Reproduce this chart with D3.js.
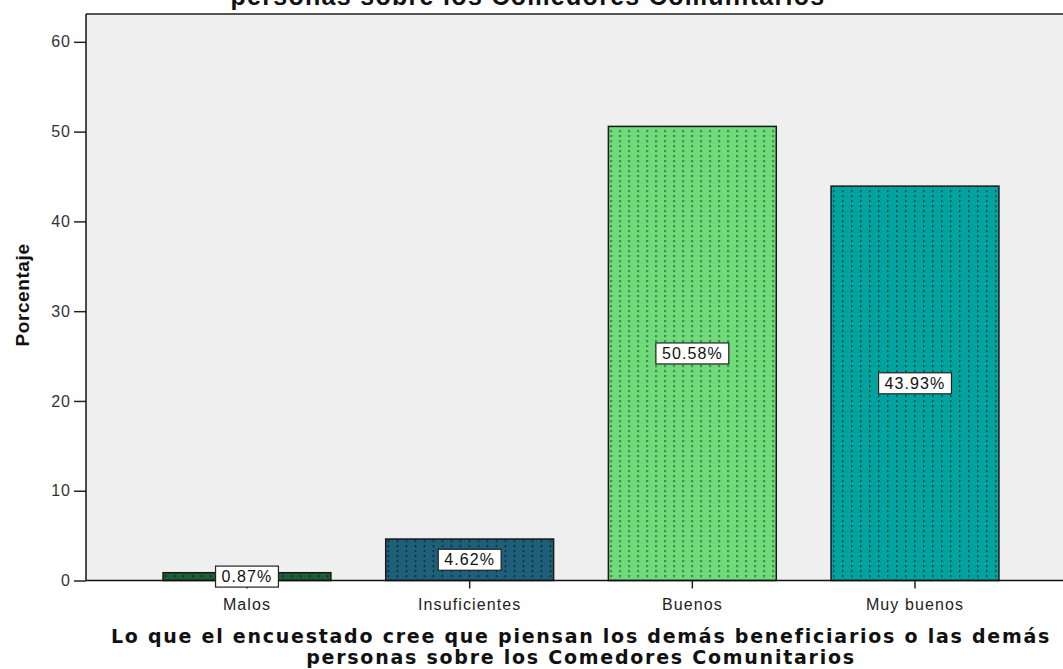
<!DOCTYPE html>
<html>
<head>
<meta charset="utf-8">
<script src="https://cdn.jsdelivr.net/npm/d3@7"></script>
<style>
  html, body { margin: 0; padding: 0; background: #ffffff; }
  svg { display: block; }
</style>
</head>
<body>
<svg id="chart" width="1063" height="669"></svg>
<script>
// ---- data ----
const categories = ["Malos", "Insuficientes", "Buenos", "Muy buenos"];
const percentages = [0.87, 4.62, 50.58, 43.93];
const valueLabels = ["0.87%", "4.62%", "50.58%", "43.93%"];
const barColors = ["#1b5e37", "#1e5f7a", "#6fdb7b", "#00a39e"];
const yTicks = [0, 10, 20, 30, 40, 50, 60];
const titleText = "personas sobre los Comedores Comunitarios";
const xTitleLines = ["Lo que el encuestado cree que piensan los demás beneficiarios o las demás",
                     "personas sobre los Comedores Comunitarios"];
const yTitle = "Porcentaje";

// ---- layout ----
const W = 1063, H = 669;
const plot = { left: 86, right: 1076, top: 14, bottom: 580.5 };
const svg = d3.select("#chart");
const SANS = "'Liberation Sans', Arial, sans-serif";

const x = d3.scaleBand()
  .domain(categories)
  .range([plot.left, plot.right])
  .paddingInner(0.246)
  .paddingOuter(0.346);

const y = d3.scaleLinear()
  .domain([0, 63.1])
  .range([plot.bottom, plot.top]);

// dotted pattern
const defs = svg.append("defs");
barColors.forEach((c, i) => {
  const p = defs.append("pattern")
    .attr("id", "pat" + i)
    .attr("patternUnits", "userSpaceOnUse")
    .attr("width", 9).attr("height", 5)
    .attr("x", x(categories[i]) + 2);
  p.append("rect").attr("width", 9).attr("height", 5).attr("fill", c);
  p.append("rect").attr("x", 0).attr("y", 0).attr("width", 1.3).attr("height", 2.2)
    .attr("fill", "#000").attr("fill-opacity", 0.6);
});

// plot background
svg.append("rect")
  .attr("x", plot.left).attr("y", plot.top)
  .attr("width", W - plot.left + 5).attr("height", plot.bottom - plot.top)
  .attr("fill", "#efefef");

// top border
svg.append("line")
  .attr("x1", plot.left).attr("x2", W + 5)
  .attr("y1", plot.top).attr("y2", plot.top)
  .attr("stroke", "#555").attr("stroke-width", 2);

// bars
svg.append("g").selectAll("rect")
  .data(categories)
  .join("rect")
  .attr("x", d => x(d))
  .attr("y", (d, i) => y(percentages[i]))
  .attr("width", x.bandwidth())
  .attr("height", (d, i) => y(0) - y(percentages[i]))
  .attr("fill", (d, i) => "url(#pat" + i + ")")
  .attr("stroke", "#1a1a1a")
  .attr("stroke-width", 1.5);

// y axis
const yAxis = d3.axisLeft(y).tickValues(yTicks).tickSize(12).tickPadding(3).tickFormat(d3.format("d"));
const gy = svg.append("g").attr("transform", `translate(${plot.left},0)`).call(yAxis);
gy.select(".domain").remove();
gy.selectAll(".tick line").attr("stroke", "#222").attr("stroke-width", 1.5);
gy.selectAll(".tick text")
  .attr("font-family", SANS)
  .attr("font-size", 16).attr("letter-spacing", "1px").attr("fill", "#333");
svg.append("line")
  .attr("x1", plot.left).attr("x2", plot.left)
  .attr("y1", plot.top).attr("y2", plot.bottom)
  .attr("stroke", "#111").attr("stroke-width", 1.5);

// x axis
const xAxis = d3.axisBottom(x).tickSize(8).tickPadding(10);
const gx = svg.append("g").attr("transform", `translate(0,${plot.bottom})`).call(xAxis);
gx.select(".domain").remove();
gx.selectAll(".tick line").attr("stroke", "#222").attr("stroke-width", 1.5);
gx.selectAll(".tick text")
  .attr("font-family", SANS)
  .attr("font-size", 16).attr("letter-spacing", "1.1px").attr("fill", "#222");
svg.append("line")
  .attr("x1", plot.left).attr("x2", W + 5)
  .attr("y1", plot.bottom).attr("y2", plot.bottom)
  .attr("stroke", "#111").attr("stroke-width", 1.5);

// value labels with boxes
const lg = svg.append("g");
categories.forEach((c, i) => {
  const cx = x(c) + x.bandwidth() / 2;
  const cy = y(percentages[i] / 2);
  const g = lg.append("g");
  const t = g.append("text")
    .attr("x", cx).attr("y", cy)
    .attr("text-anchor", "middle").attr("dominant-baseline", "central")
    .attr("font-family", SANS)
    .attr("font-size", 16).attr("letter-spacing", "1.1px").attr("fill", "#111")
    .text(valueLabels[i]);
  const tw = t.node().getBBox().width;
  g.insert("rect", "text")
    .attr("x", cx - tw / 2 - 6).attr("y", cy - 10.5)
    .attr("width", tw + 12).attr("height", 21)
    .attr("fill", "#fff").attr("stroke", "#222").attr("stroke-width", 1.2);
});

// top (cut-off) title
svg.append("text")
  .attr("x", 528).attr("y", 5)
  .attr("text-anchor", "middle")
  .attr("font-family", SANS)
  .attr("font-weight", "bold").attr("font-size", 25).attr("letter-spacing", "1.3px").attr("fill", "#111")
  .text(titleText);

// x title
xTitleLines.forEach((line, i) => {
  svg.append("text")
    .attr("x", 581).attr("y", 643 + i * 21)
    .attr("text-anchor", "middle")
    .attr("font-family", "'DejaVu Sans', Verdana, sans-serif")
    .attr("font-weight", "bold").attr("font-size", 19).attr("letter-spacing", "1.75px").attr("fill", "#111")
    .text(line);
});

// y title
svg.append("text")
  .attr("transform", "translate(29,295) rotate(-90)")
  .attr("text-anchor", "middle")
  .attr("font-family", SANS)
  .attr("font-weight", "bold").attr("font-size", 19).attr("letter-spacing", "0.6px").attr("fill", "#111")
  .text(yTitle);
</script>
</body>
</html>
